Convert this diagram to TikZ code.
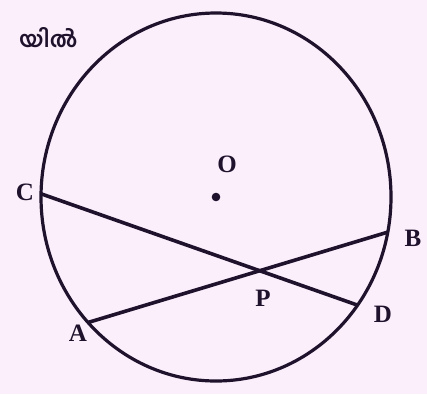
\documentclass[tikz,border=0pt]{standalone}
\usepackage{fontspec}
\setmainfont{Liberation Serif}
\newfontfamily\mlfont[Script=Malayalam]{Hind Kochi}
\usepackage{tikz}
\usetikzlibrary{calc}

\definecolor{paper}{RGB}{251,239,251}
\definecolor{ink}{RGB}{30,18,45}

\tikzset{
  ptlabel/.style={font=\fontsize{25}{27}\selectfont\bfseries, text=ink, inner sep=0pt}
}

\begin{document}
\begin{tikzpicture}[x=1pt,y=-1pt]
            % Page and background
            \fill[paper] (0,0) rectangle (427,394);
            \useasboundingbox (0,0) rectangle (427,394);

            % Centre and the circle (scan is a little taller than wide)
            \coordinate (O) at (216,197);
            \draw[ink, line width=3.2pt] (O) ellipse [x radius=175, y radius=184];
            \fill[ink] (O) circle (4.3);

            % End points of the two chords on the circle
            \coordinate (C) at ($(O)+(181:175 and 184)$);
            \coordinate (D) at ($(O)+(36:175 and 184)$);
            \coordinate (A) at ($(O)+(137:175 and 184)$);
            \coordinate (B) at ($(O)+(11:175 and 184)$);
            \coordinate (P) at (intersection of A--B and C--D);

            % Chords AB and CD meeting at P
            \draw[ink, line width=3.6pt] (C) -- (D);
            \draw[ink, line width=3.6pt] (A) -- (B);

            % Labels
            \node[ptlabel] (lO) at (227,164) {O};
            \node[ptlabel] (lC) at (25,192) {C};
            \node[ptlabel] (lB) at (413,238) {B};
            \node[ptlabel] (lD) at (383,314) {D};
            \node[ptlabel] (lA) at (78,333) {A};
            \node[ptlabel] (lP) at (263,298) {P};

            % Text of the page, cut at the left edge
            \node[anchor=west, inner sep=0pt, text=ink, font=\mlfont\fontsize{22}{24}\selectfont\bfseries] (txt) at (19,38) {യിൽ};
        \end{tikzpicture}
\end{document}
